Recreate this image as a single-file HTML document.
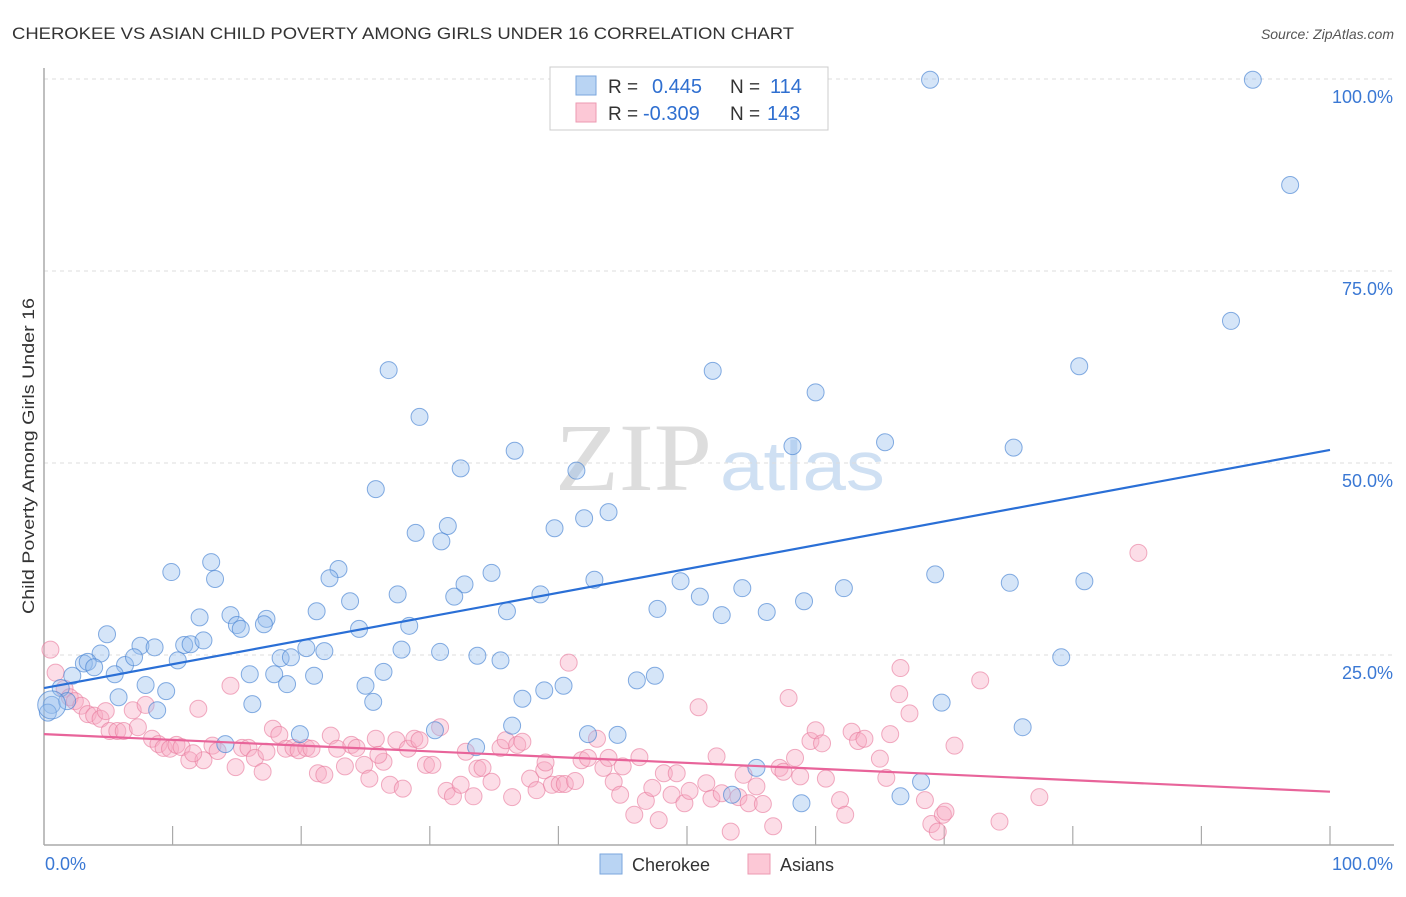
<!DOCTYPE html>
<html><head><meta charset="utf-8"><style>
body{margin:0;background:#fff;font-family:"Liberation Sans",sans-serif;}
</style></head><body>
<svg width="1406" height="892" xmlns="http://www.w3.org/2000/svg" style="font-family:'Liberation Sans',sans-serif">
<text x="12" y="39" font-size="17" fill="#333" textLength="782" lengthAdjust="spacingAndGlyphs">CHEROKEE VS ASIAN CHILD POVERTY AMONG GIRLS UNDER 16 CORRELATION CHART</text>
<text x="1394" y="39" font-size="14" fill="#555" font-style="italic" text-anchor="end">Source: ZipAtlas.com</text>
<g>
<text x="555" y="490" font-size="96" fill="#ddd" textLength="157" lengthAdjust="spacingAndGlyphs" font-family="Liberation Serif,serif">ZIP</text>
<text x="720" y="490" font-size="70" fill="#cfe0f3" textLength="165" lengthAdjust="spacingAndGlyphs">atlas</text>
</g>
<g id="grid"></g>
<g id="axes"></g>
<g id="pts"></g>
<g id="trend"></g>
<text x="34" y="456" font-size="17" fill="#333" text-anchor="middle" textLength="316" lengthAdjust="spacingAndGlyphs" transform="rotate(-90 34 456)">Child Poverty Among Girls Under 16</text>
<g>
<rect x="550" y="67" width="278" height="63" fill="#fff" stroke="#ccc"/>
<rect x="576" y="76" width="20" height="19" fill="#b9d4f3" stroke="#7aa6dc"/>
<rect x="576" y="103" width="20" height="19" fill="#fcc8d6" stroke="#ec9ab2"/>
<text x="608" y="93" font-size="19" fill="#333">R =</text><text x="652" y="93" font-size="20" fill="#2f6fd0">0.445</text>
<text x="730" y="93" font-size="19" fill="#333">N =</text><text x="770" y="93" font-size="20" fill="#2f6fd0">114</text>
<text x="608" y="120" font-size="19" fill="#333">R =</text><text x="643" y="120" font-size="20" fill="#2f6fd0">-0.309</text>
<text x="730" y="120" font-size="19" fill="#333">N =</text><text x="767" y="120" font-size="20" fill="#2f6fd0">143</text>
</g>
<g>
<rect x="600" y="854" width="22" height="20" fill="#b9d4f3" stroke="#7aa6dc"/>
<text x="632" y="871" font-size="18" fill="#333">Cherokee</text>
<rect x="748" y="854" width="22" height="20" fill="#fcc8d6" stroke="#ec9ab2"/>
<text x="780" y="871" font-size="18" fill="#333">Asians</text>
</g>
</svg>
<script>
const cherokeeX=[68.9,94.0,96.9,92.3,80.5,26.8,52.0,60.0,29.2,65.4,58.2,75.4,36.6,32.4,41.4,25.8,43.9,42.0,31.4,39.7,28.9,30.9,9.9,13.0,22.9,22.2,13.3,34.8,32.7,42.8,49.5,69.3,75.1,80.9,54.3,62.2,27.5,38.6,31.9,51.0,23.8,59.1,21.2,36.0,47.7,56.2,52.7,12.1,14.5,17.3,15.0,15.3,17.1,24.5,28.4,4.9,7.5,8.6,10.9,11.4,12.4,20.4,21.8,27.8,30.8,33.7,35.5,79.1,3.1,4.4,3.4,3.9,6.3,7.0,10.4,18.4,19.2,2.2,5.5,16.0,17.9,21.0,26.4,46.1,47.5,1.3,7.9,9.5,18.9,25.0,38.9,40.4,5.8,37.2,0.6,8.8,16.2,25.6,69.8,36.4,76.1,19.9,30.4,42.3,44.6,14.1,33.6,55.4,53.5,58.9,66.6,68.2,0.3,1.8];
const cherokeeY=[99.9,99.9,86.2,68.5,62.6,62.1,62.0,59.2,56.0,52.7,52.2,52.0,51.6,49.3,49.0,46.6,43.6,42.8,41.8,41.5,40.9,39.8,35.8,37.1,36.2,35.0,34.9,35.7,34.2,34.8,34.6,35.5,34.4,34.6,33.7,33.7,32.9,32.9,32.6,32.6,32.0,32.0,30.7,30.7,31.0,30.6,30.2,29.9,30.2,29.7,28.9,28.4,29.0,28.4,28.8,27.7,26.2,26.0,26.3,26.4,26.9,25.9,25.5,25.7,25.4,24.9,24.3,24.7,23.9,25.2,24.1,23.4,23.7,24.7,24.3,24.6,24.7,22.3,22.5,22.5,22.5,22.3,22.8,21.7,22.3,20.7,21.1,20.3,21.2,21.0,20.4,21.0,19.5,19.3,18.5,17.8,18.6,18.9,18.8,15.8,15.6,14.7,15.2,14.7,14.6,13.4,13.0,10.3,6.8,5.7,6.6,8.5,17.5,19.0];
const asianX=[0.5,0.9,1.6,2.0,2.4,2.9,3.4,3.9,4.4,4.8,5.1,5.7,6.2,6.9,7.3,7.9,8.4,8.9,9.3,9.8,10.3,10.7,11.3,12.0,12.4,13.1,13.5,14.5,14.9,15.4,15.9,16.4,17.0,17.3,17.8,18.3,18.8,19.4,19.8,20.4,20.8,21.3,21.8,22.3,22.8,23.4,23.9,24.3,24.9,25.3,25.8,26.4,26.9,27.4,27.9,28.3,28.8,29.2,29.7,30.2,30.8,31.3,31.8,32.4,32.8,33.4,33.7,34.1,34.8,35.5,35.9,36.4,36.8,37.2,37.8,38.3,38.9,39.5,40.1,40.5,40.8,41.3,41.8,42.3,43.0,43.5,43.9,44.3,44.8,45.9,46.3,46.8,47.3,47.8,48.2,48.8,49.2,49.8,50.2,50.9,51.5,51.9,52.3,52.7,53.4,54.0,54.4,54.8,55.4,55.9,56.7,57.2,57.9,58.4,58.8,59.6,60.0,60.5,60.8,61.9,62.3,62.8,63.3,63.8,65.0,65.5,65.8,66.5,66.6,67.3,68.5,69.0,69.5,69.9,70.1,70.8,72.8,74.3,77.4,85.1,11.6,26.0,39.0,45.0,57.5];
const asianY=[25.7,22.7,20.6,19.5,19.0,18.4,17.3,17.1,16.7,17.7,15.1,15.1,15.1,17.8,15.6,18.5,14.1,13.4,12.9,12.8,13.3,13.0,11.3,18.0,11.3,13.2,12.5,21.0,10.4,12.9,12.9,11.6,9.8,12.4,15.4,14.6,12.8,12.9,12.6,12.9,12.8,9.6,9.4,14.5,12.8,10.5,13.3,12.9,10.7,8.9,14.1,11.1,8.1,13.9,7.6,12.8,14.1,13.9,10.7,10.7,15.6,7.3,6.6,8.1,12.4,6.6,10.2,10.3,8.5,12.9,13.9,6.5,13.3,13.7,8.9,7.4,10.0,8.1,8.2,8.2,24.0,8.6,11.3,11.6,14.1,10.3,11.6,8.5,6.8,4.2,11.7,6.0,7.7,3.5,9.6,6.8,9.6,5.7,7.3,18.2,8.3,6.3,11.8,7.0,2.0,6.5,9.4,5.7,7.9,5.6,2.7,10.3,19.4,11.6,9.2,13.8,15.2,13.5,8.9,6.1,4.2,15.0,13.8,14.1,11.5,9.0,14.7,19.9,23.3,17.4,6.1,3.0,2.0,4.2,4.6,13.2,21.7,3.3,6.5,38.3,12.2,12.0,11.0,10.5,9.8];
const trendX=[0,100];
const cherokeeTrend=[20.7,51.7];
const asianTrend=[14.7,7.2];
const yTicks=[25,50,75,100];
const yTickLabels=["25.0%","50.0%","75.0%","100.0%"];
const xTickLabels=["0.0%","100.0%"];
const NS="http://www.w3.org/2000/svg";
const X0=44,X1=1330,Y0=847,Y100=79;
const sx=v=>X0+(X1-X0)*v/100;
const sy=v=>Y0-(Y0-Y100)*v/100;
function mk(tag,attrs,parent){const e=document.createElementNS(NS,tag);for(const k in attrs)e.setAttribute(k,attrs[k]);parent.appendChild(e);return e;}
const grid=document.getElementById('grid'),axes=document.getElementById('axes'),pts=document.getElementById('pts'),trend=document.getElementById('trend');
yTicks.forEach((t,i)=>{
 const l=mk('line',{x1:X0,x2:1394,y1:sy(t),y2:sy(t),stroke:'#ddd','stroke-dasharray':'4,4'},grid);
 
 
 const tx=mk('text',{x:1393,y:sy(t)+24,'font-size':18,fill:'#3a78d4','text-anchor':'end'},axes);
 tx.textContent=yTickLabels[i];
 
 
});
let a=mk('line',{x1:X0,x2:X0,y1:68,y2:845,stroke:'#aaa','stroke-width':1.5},axes);


a=mk('line',{x1:X0,x2:1394,y1:845,y2:845,stroke:'#aaa','stroke-width':1.5},axes);


for(let i=1;i<=10;i++){const t=mk('line',{x1:sx(i*10),x2:sx(i*10),y1:826,y2:845,stroke:'#aaa','stroke-width':1.2},axes);
 
 }
[[0,'start',45],[100,'end',1393]].forEach((d,i)=>{const t=mk('text',{x:d[2],y:870,'font-size':18,fill:'#3a78d4','text-anchor':d[1]},axes);t.textContent=xTickLabels[i];
 
 });
asianX.forEach((x,i)=>{const c=mk('circle',{cx:sx(x),cy:sy(asianY[i]),r:8.5,fill:'rgba(248,170,195,0.4)',stroke:'rgba(232,120,155,0.6)','stroke-width':1},pts);
 
 });
cherokeeX.forEach((x,i)=>{const c=mk('circle',{cx:sx(x),cy:sy(cherokeeY[i]),r:8.5,fill:'rgba(150,190,238,0.4)',stroke:'rgba(70,130,210,0.65)','stroke-width':1},pts);
 
 });
let big=mk('circle',{cx:sx(0.6),cy:sy(18.5),r:14,fill:'rgba(150,190,238,0.4)',stroke:'rgba(70,130,210,0.65)'},pts);


let tl=mk('line',{x1:sx(trendX[0]),y1:sy(cherokeeTrend[0]),x2:sx(trendX[1]),y2:sy(cherokeeTrend[1]),stroke:'#2a6fd6','stroke-width':2.2},trend);


tl=mk('line',{x1:sx(trendX[0]),y1:sy(asianTrend[0]),x2:sx(trendX[1]),y2:sy(asianTrend[1]),stroke:'#e8649a','stroke-width':2.2},trend);


</script>
</body></html>
